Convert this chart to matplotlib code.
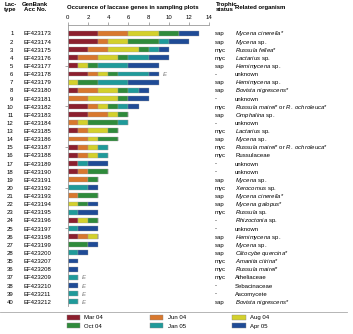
import re
import matplotlib
matplotlib.use("Agg")
import matplotlib.pyplot as plt
import matplotlib.transforms as mtransforms
from matplotlib.patches import Patch
from matplotlib.lines import Line2D

plt.rcParams["font.family"] = ["Liberation Sans", "DejaVu Sans"]
plt.rcParams["mathtext.fontset"] = "custom"
plt.rcParams["mathtext.rm"] = "Liberation Sans"
plt.rcParams["mathtext.it"] = "Liberation Sans:italic"
plt.rcParams["mathtext.bf"] = "Liberation Sans:bold"

# data
lac_types = [1, 2, 3, 4, 5, 6, 7, 8, 9, 10, 11, 12, 13, 14, 15, 16, 17, 18, 19, 20,
             21, 22, 23, 24, 25, 26, 27, 28, 35, 36, 37, 38, 39, 40]
acc_no = ["EF423173", "EF423174", "EF423175", "EF423176", "EF423177", "EF423178",
          "EF423179", "EF423180", "EF423181", "EF423182", "EF423183", "EF423184",
          "EF423185", "EF423186", "EF423187", "EF423188", "EF423189", "EF423190",
          "EF423191", "EF423192", "EF423193", "EF423194", "EF423195", "EF423196",
          "EF423197", "EF423198", "EF423199", "EF423200", "EF423207", "EF423208",
          "EF423209", "EF423210", "EF423211", "EF423212"]
months = ["Mar 04", "Jun 04", "Aug 04", "Oct 04", "Jan 05", "Apr 05"]
colors = ["#8c1f2e", "#d8782e", "#d3d02c", "#2f8b3b", "#1f9a9a", "#1f4b96"]

mar04 = [3, 3, 2, 1, 1, 2, 0, 1, 0, 2, 2, 0, 1, 0, 1, 1, 1, 1, 0, 0, 0, 0, 0, 1, 0, 1, 0, 0, 0, 0, 0, 0, 0, 0]
jun04 = [3, 1, 2, 2, 0, 1, 0, 2, 2, 1, 2, 1, 1, 2, 1, 1, 0, 1, 2, 0, 1, 0, 0, 0, 0, 1, 0, 0, 0, 0, 0, 0, 0, 0]
aug04 = [3, 2, 3, 2, 1, 1, 1, 2, 3, 1, 1, 1, 2, 1, 1, 1, 0, 0, 0, 0, 0, 1, 0, 1, 0, 1, 0, 0, 0, 0, 0, 0, 0, 0]
oct04 = [2, 3, 1, 1, 1, 1, 2, 1, 1, 1, 1, 3, 1, 2, 0, 0, 0, 2, 1, 0, 2, 1, 0, 1, 0, 0, 2, 0, 0, 0, 0, 0, 0, 0]
jan05 = [0, 1, 1, 2, 3, 3, 3, 1, 0, 1, 0, 1, 0, 0, 1, 1, 1, 0, 0, 2, 0, 0, 1, 0, 1, 0, 0, 1, 0, 0, 1, 0, 1, 1]
apr05 = [2, 2, 1, 2, 3, 1, 3, 1, 2, 1, 0, 0, 0, 0, 0, 0, 2, 0, 0, 1, 0, 1, 2, 0, 2, 0, 1, 1, 1, 1, 0, 1, 0, 0]
series = [mar04, jun04, aug04, oct04, jan05, apr05]

e_marked = [6, 37, 38, 39, 40]

trophic = ["sap", "sap", "myc", "myc", "sap", "-", "sap", "sap", "-", "myc",
           "sap", "-", "myc", "sap", "myc", "myc", "-", "-", "sap", "myc",
           "sap", "sap", "myc", "-", "-", "sap", "sap", "sap", "myc", "myc",
           "myc", "-", "-", "sap"]
organisms = ["_Mycena cinerella_*", "_Mycena_ sp.", "_Russula fellea_*", "_Lactarius_ sp.",
             "_Hemimycena_ sp.", "unknown", "_Hemimycena_ sp.", "_Bovista nigrescens_*",
             "unknown", "_Russula mairei_* or _R. ochroleuca_*", "_Omphalina_ sp.", "unknown",
             "_Lactarius_ sp.", "_Mycena_ sp.", "_Russula mairei_* or _R. ochroleuca_*",
             "Russulaceae", "unknown", "unknown", "_Mycena_ sp.", "_Xerocomus_ sp.",
             "_Mycena cinerella_*", "_Mycena galopus_*", "_Russula_ sp.", "_Rhizoctonia_ sp.",
             "unknown", "_Hemimycena_ sp.", "_Mycena_ sp.", "_Clitocybe quercina_*",
             "_Amanita citrina_*", "_Russula mairei_*", "Atheliaceae", "Sebacinaceae",
             "Ascomycete", "_Bovista nigrescens_*"]


def fmt(s):
    return re.sub(r"_(.+?)_",
                  lambda m: r"$\mathit{" + m.group(1).replace(" ", r"\ ") + "}$", s)


W, H = 353, 334
fs = 4.3


def fx(px):
    return px / W


def fy(py):
    return 1 - py / H


fig = plt.figure(figsize=(W / 100, H / 100), dpi=100)

row0, step = 33.3, 8.13
ax_top, ax_bot = 25, 306
x0, x14 = 67.7, 209.3
ax = fig.add_axes([fx(x0), fy(ax_bot), (x14 - x0) / W, (ax_bot - ax_top) / H])

n = len(lac_types)
rows = list(range(n))
left = [0] * n
for vals, c in zip(series, colors):
    ax.barh(rows, vals, left=left, height=0.6, color=c, edgecolor="#9a9a9a", linewidth=0.25)
    left = [a + b for a, b in zip(left, vals)]

base = 0.27  # baseline offset below row centre, in row units
for i, t in enumerate(lac_types):
    if t in e_marked:
        ax.text(left[i] + 0.4, i + base, "E", fontsize=fs, style="italic", color="#777777",
                va="baseline", ha="left")

ax.set_xlim(0, 14)
ax.set_ylim((ax_bot - row0) / step, (ax_top - row0) / step)
ax.xaxis.tick_top()
ax.set_xticks(range(0, 15, 2))
ax.tick_params(axis="x", labelsize=fs, length=2, width=0.5, pad=1.5, color="#888888")
ax.set_yticks([4, 9, 14, 19, 24])
ax.set_yticklabels([])
ax.tick_params(axis="y", length=2.5, width=0.5, color="#888888")
for s in ["right", "bottom"]:
    ax.spines[s].set_visible(False)
for s in ["top", "left"]:
    ax.spines[s].set_color("#999999")
    ax.spines[s].set_linewidth(0.6)

tr = mtransforms.blended_transform_factory(fig.transFigure, ax.transData)
for i in rows:
    y = i + base
    ax.text(fx(13.5), y, str(lac_types[i]), transform=tr, fontsize=fs, ha="right", va="baseline")
    ax.text(fx(23), y, acc_no[i], transform=tr, fontsize=fs, ha="left", va="baseline")
    ax.text(fx(215), y, trophic[i], transform=tr, fontsize=fs, ha="left", va="baseline")
    ax.text(fx(235), y, fmt(organisms[i]), transform=tr, fontsize=fs, ha="left", va="baseline")

# headers
hkw = dict(fontsize=fs, fontweight="bold", va="center", linespacing=1.05)
fig.text(fx(10.5), fy(7), "Lac-\ntype", ha="center", **hkw)
fig.text(fx(35), fy(7), "GenBank\nAcc No.", ha="center", **hkw)
fig.text(fx(67), fy(7), "Occurence of laccase genes in sampling plots", ha="left", **hkw)
fig.text(fx(216), fy(7), "Trophic\nstatus", ha="left", **hkw)
fig.text(fx(235), fy(7), "Related organism", ha="left", **hkw)

fig.add_artist(Line2D([0, fx(347)], [fy(312), fy(312)], color="#aaaaaa", lw=0.6))

order = [0, 3, 1, 4, 2, 5]
handles = [Patch(facecolor=colors[k], edgecolor="#888888", linewidth=0.3) for k in order]
labels = [months[k] for k in order]
fig.legend(handles, labels, ncol=3, loc="upper left", bbox_to_anchor=(fx(66.5), fy(315)),
           frameon=False, fontsize=fs, handlelength=2.2, handleheight=0.8,
           handletextpad=0.8, columnspacing=7.8, labelspacing=0.5,
           borderpad=0, borderaxespad=0)

fig.savefig("out.png", dpi=100)
